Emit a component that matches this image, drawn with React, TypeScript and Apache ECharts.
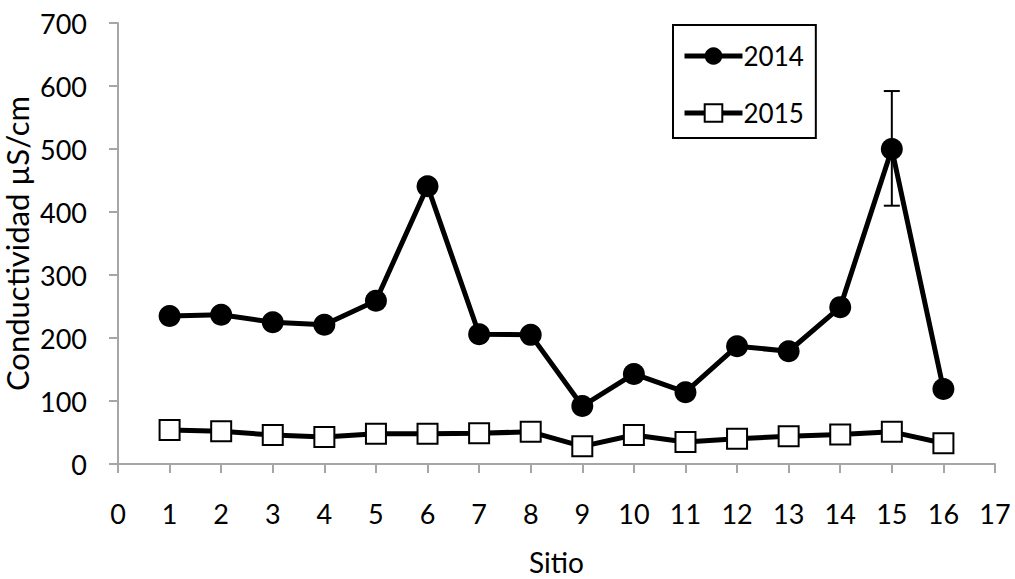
import React, { useEffect, useRef } from "react";
import * as echarts from "echarts";

const sites = [1, 2, 3, 4, 5, 6, 7, 8, 9, 10, 11, 12, 13, 14, 15, 16];
const values2014 = [235, 237, 225, 221, 259, 441, 206, 205, 92, 143, 114, 187, 179, 249, 500, 119];
const values2015 = [54, 52, 46, 43, 48, 48, 49, 51, 28, 46, 35, 40, 44, 47, 51, 33];
// error bars: [site, low, high]
const errorBars2014 = [[15, 410, 592]];

const FONT = "Lato, 'Open Sans', sans-serif";

export default function App() {
  const ref = useRef<HTMLDivElement>(null);
  useEffect(() => {
    const chart = echarts.init(ref.current!, null, { renderer: "svg" });
    chart.setOption({
      animation: false,
      backgroundColor: "#fff",
      textStyle: { fontFamily: FONT },
      grid: { left: 118, right: 20, top: 23, bottom: 115, containLabel: false, outerBoundsMode: "none" },
      legend: {
        orient: "vertical",
        left: 673,
        top: 25,
        data: [
          { name: "2014", lineStyle: { width: 5, color: "#000" } },
          { name: "2015", lineStyle: { width: 5, color: "#000" } },
        ],
        itemWidth: 58,
        itemHeight: 22,
        itemGap: 31,
        padding: [18, 12, 12, 9],
        borderColor: "#000",
        borderWidth: 2,
        textStyle: { fontSize: 26, color: "#000", fontFamily: FONT, padding: [0, 0, 0, -4] },
      },
      xAxis: {
        type: "value",
        min: 0,
        max: 17,
        interval: 1,
        name: "Sitio",
        nameLocation: "middle",
        nameGap: 84,
        nameMoveOverlap: false,
        nameTextStyle: { fontSize: 28, color: "#000", fontFamily: FONT },
        axisLine: { lineStyle: { color: "#a6a6a6", width: 2 } },
        axisTick: { show: true, length: 9, lineStyle: { color: "#a6a6a6", width: 2 } },
        axisLabel: { fontSize: 27, color: "#000", margin: 36, fontFamily: FONT },
        splitLine: { show: false },
      },
      yAxis: {
        type: "value",
        min: 0,
        max: 700,
        interval: 100,
        name: "Conductividad µS/cm",
        nameLocation: "middle",
        nameGap: 86,
        nameMoveOverlap: false,
        nameTextStyle: { fontSize: 31, color: "#000", fontFamily: FONT },
        axisLine: { show: true, lineStyle: { color: "#a6a6a6", width: 2 } },
        axisTick: { show: true, length: 9, lineStyle: { color: "#a6a6a6", width: 2 } },
        axisLabel: { fontSize: 27, color: "#000", margin: 31, fontFamily: FONT },
        splitLine: { show: false },
      },
      series: [
        {
          name: "2014",
          type: "line",
          data: sites.map((s, i) => [s, values2014[i]]),
          symbol: "circle",
          symbolSize: 22,
          lineStyle: { color: "#000", width: 5 },
          itemStyle: { color: "#000", borderColor: "#000", borderWidth: 0 },
          z: 3,
        },
        {
          name: "2015",
          type: "line",
          data: sites.map((s, i) => [s, values2015[i]]),
          symbol: "rect",
          symbolSize: 20,
          lineStyle: { color: "#000", width: 5 },
          itemStyle: { color: "#fff", borderColor: "#000", borderWidth: 2 },
          z: 3,
        },
        {
          type: "custom",
          name: "err",
          data: errorBars2014,
          z: 2,
          renderItem: (params: any, api: any) => {
            const x = api.value(0);
            const lo = api.coord([x, api.value(1)]);
            const hi = api.coord([x, api.value(2)]);
            const w = 8;
            const style = { stroke: "#000", lineWidth: 2 };
            return {
              type: "group",
              children: [
                { type: "line", shape: { x1: lo[0], y1: lo[1], x2: hi[0], y2: hi[1] }, style },
                { type: "line", shape: { x1: lo[0] - w, y1: lo[1], x2: lo[0] + w, y2: lo[1] }, style },
                { type: "line", shape: { x1: hi[0] - w, y1: hi[1], x2: hi[0] + w, y2: hi[1] }, style },
              ],
            };
          },
        },
      ],
    });
    return () => chart.dispose();
  }, []);
  return (
    <div style={{ position: "fixed", left: 0, top: 0 }}>
      <div ref={ref} style={{ width: 1015, height: 579 }} />
    </div>
  );
}
